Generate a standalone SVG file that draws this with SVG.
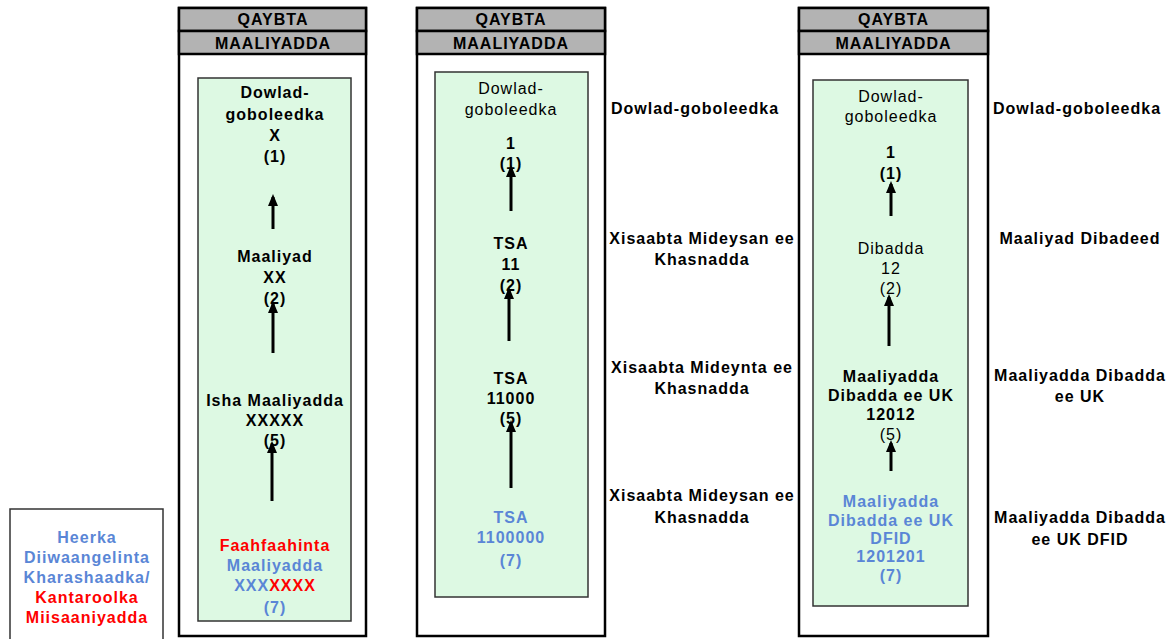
<svg xmlns="http://www.w3.org/2000/svg" width="1172" height="639" viewBox="0 0 1172 639">
<defs>
<marker id="ah" viewBox="0 0 12 10" refX="9" refY="5" markerWidth="12" markerHeight="10" markerUnits="userSpaceOnUse" orient="auto">
<path d="M0,0 L12,5 L0,10 Z" fill="#000"/>
</marker>
<style>
.outer{fill:#fff;stroke:#000;stroke-width:2.5}
.hdr{fill:#b3b3b3;stroke:#000;stroke-width:2.5}
.grn{fill:#ddf9e3;stroke:#333;stroke-width:1.5}
text{font-family:"Liberation Sans",Arial,sans-serif;font-size:16px;letter-spacing:1px;text-anchor:middle;dominant-baseline:central;fill:#000}
.b{font-weight:bold}
.hd{font-weight:bold;font-size:16px}
.blue{fill:#5a86d6;font-weight:bold}
.red{fill:#ff0000;font-weight:bold}
.lab{font-weight:bold}
.arr{stroke:#000;stroke-width:3;fill:none}
</style>
</defs>
<rect x="0" y="0" width="1172" height="639" fill="#fff"/>

<g id="panel-left">
<rect class="outer" x="179" y="8" width="187" height="628"/>
<rect class="hdr" x="179" y="8" width="187" height="23"/>
<rect class="hdr" x="179" y="31" width="187" height="23"/>
<text class="hd" x="273" y="19">QAYBTA</text>
<text class="hd" x="273" y="43">MAALIYADDA</text>
<rect class="grn" x="198" y="78" width="153" height="543"/>
</g>
<g id="node-left-1">
<text class="b" x="275" y="92">Dowlad-</text>
<text class="b" x="275" y="114">goboleedka</text>
<text class="b" x="275" y="135">X</text>
<text class="b" x="275" y="156">(1)</text>
</g>
<g id="node-left-2">
<text class="b" x="275" y="256">Maaliyad</text>
<text class="b" x="275" y="277">XX</text>
<text class="b" x="275" y="298">(2)</text>
</g>
<g id="node-left-5">
<text class="b" x="275" y="400">Isha Maaliyadda</text>
<text class="b" x="275" y="420">XXXXX</text>
<text class="b" x="275" y="440">(5)</text>
</g>
<g id="node-left-7">
<text class="red" x="275" y="545">Faahfaahinta</text>
<text class="blue" x="275" y="565">Maaliyadda</text>
<text x="275" y="585"><tspan class="blue">XXX</tspan><tspan class="red">XXXX</tspan></text>
<text class="blue" x="275" y="607">(7)</text>
</g>

<g id="panel-middle">
<rect class="outer" x="417" y="8" width="188" height="628"/>
<rect class="hdr" x="417" y="8" width="188" height="23"/>
<rect class="hdr" x="417" y="31" width="188" height="23"/>
<text class="hd" x="511" y="19">QAYBTA</text>
<text class="hd" x="511" y="43">MAALIYADDA</text>
<rect class="grn" x="435" y="72" width="153" height="525"/>
</g>
<g id="node-mid-1">
<text x="511" y="88">Dowlad-</text>
<text x="511" y="109">goboleedka</text>
<text class="b" x="511" y="143">1</text>
<text class="b" x="511" y="163">(1)</text>
</g>
<g id="node-mid-2">
<text class="b" x="511" y="243">TSA</text>
<text class="b" x="511" y="264">11</text>
<text class="b" x="511" y="285">(2)</text>
</g>
<g id="node-mid-5">
<text class="b" x="511" y="378">TSA</text>
<text class="b" x="511" y="398">11000</text>
<text class="b" x="511" y="418">(5)</text>
</g>
<g id="node-mid-7">
<text class="blue" x="511" y="517">TSA</text>
<text class="blue" x="511" y="537">1100000</text>
<text class="blue" x="511" y="560">(7)</text>
</g>

<g id="panel-right">
<rect class="outer" x="799" y="8" width="189" height="628"/>
<rect class="hdr" x="799" y="8" width="189" height="23"/>
<rect class="hdr" x="799" y="31" width="189" height="23"/>
<text class="hd" x="893.5" y="19">QAYBTA</text>
<text class="hd" x="893.5" y="43">MAALIYADDA</text>
<rect class="grn" x="813" y="80" width="155" height="526"/>
</g>
<g id="node-right-1">
<text x="891" y="96">Dowlad-</text>
<text x="891" y="116">goboleedka</text>
<text class="b" x="891" y="152">1</text>
<text class="b" x="891" y="173">(1)</text>
</g>
<g id="node-right-2">
<text x="891" y="248">Dibadda</text>
<text x="891" y="268">12</text>
<text x="891" y="288">(2)</text>
</g>
<g id="node-right-5">
<text class="b" x="891" y="376">Maaliyadda</text>
<text class="b" x="891" y="395">Dibadda ee UK</text>
<text class="b" x="891" y="414">12012</text>
<text x="891" y="434">(5)</text>
</g>
<g id="node-right-7">
<text class="blue" x="891" y="501">Maaliyadda</text>
<text class="blue" x="891" y="520">Dibadda ee UK</text>
<text class="blue" x="891" y="538">DFID</text>
<text class="blue" x="891" y="556">1201201</text>
<text class="blue" x="891" y="575">(7)</text>
</g>

<g id="labels-middle">
<text class="lab" x="695" y="108">Dowlad-goboleedka</text>
<text class="lab" x="702" y="238">Xisaabta Mideysan ee</text>
<text class="lab" x="702" y="259">Khasnadda</text>
<text class="lab" x="702" y="367">Xisaabta Mideynta ee</text>
<text class="lab" x="702" y="388">Khasnadda</text>
<text class="lab" x="702" y="495">Xisaabta Mideysan ee</text>
<text class="lab" x="702" y="517">Khasnadda</text>
</g>
<g id="labels-right">
<text class="lab" x="1077" y="108">Dowlad-goboleedka</text>
<text class="lab" x="1080" y="238">Maaliyad Dibadeed</text>
<text class="lab" x="1080" y="375">Maaliyadda Dibadda</text>
<text class="lab" x="1080" y="396">ee UK</text>
<text class="lab" x="1080" y="517">Maaliyadda Dibadda</text>
<text class="lab" x="1080" y="539">ee UK DFID</text>
</g>

<g id="legend">
<rect x="10" y="509" width="153" height="140" fill="#fff" stroke="#333" stroke-width="1.5"/>
<text class="blue" x="87" y="537">Heerka</text>
<text class="blue" x="87" y="557">Diiwaangelinta</text>
<text class="blue" x="87" y="577">Kharashaadka/</text>
<text class="red" x="87" y="597">Kantaroolka</text>
<text class="red" x="87" y="617">Miisaaniyadda</text>
</g>

<g id="connectors">
<line class="arr" x1="273" y1="229" x2="273" y2="197" marker-end="url(#ah)"/>
<line class="arr" x1="273" y1="353" x2="273" y2="304" marker-end="url(#ah)"/>
<line class="arr" x1="272" y1="501" x2="272" y2="444" marker-end="url(#ah)"/>
<line class="arr" x1="511" y1="211" x2="511" y2="168" marker-end="url(#ah)"/>
<line class="arr" x1="509" y1="341" x2="509" y2="290" marker-end="url(#ah)"/>
<line class="arr" x1="511" y1="488" x2="511" y2="423" marker-end="url(#ah)"/>
<line class="arr" x1="891" y1="216" x2="891" y2="184" marker-end="url(#ah)"/>
<line class="arr" x1="889" y1="346" x2="889" y2="297" marker-end="url(#ah)"/>
<line class="arr" x1="891" y1="471" x2="891" y2="443" marker-end="url(#ah)"/>
</g>
</svg>
